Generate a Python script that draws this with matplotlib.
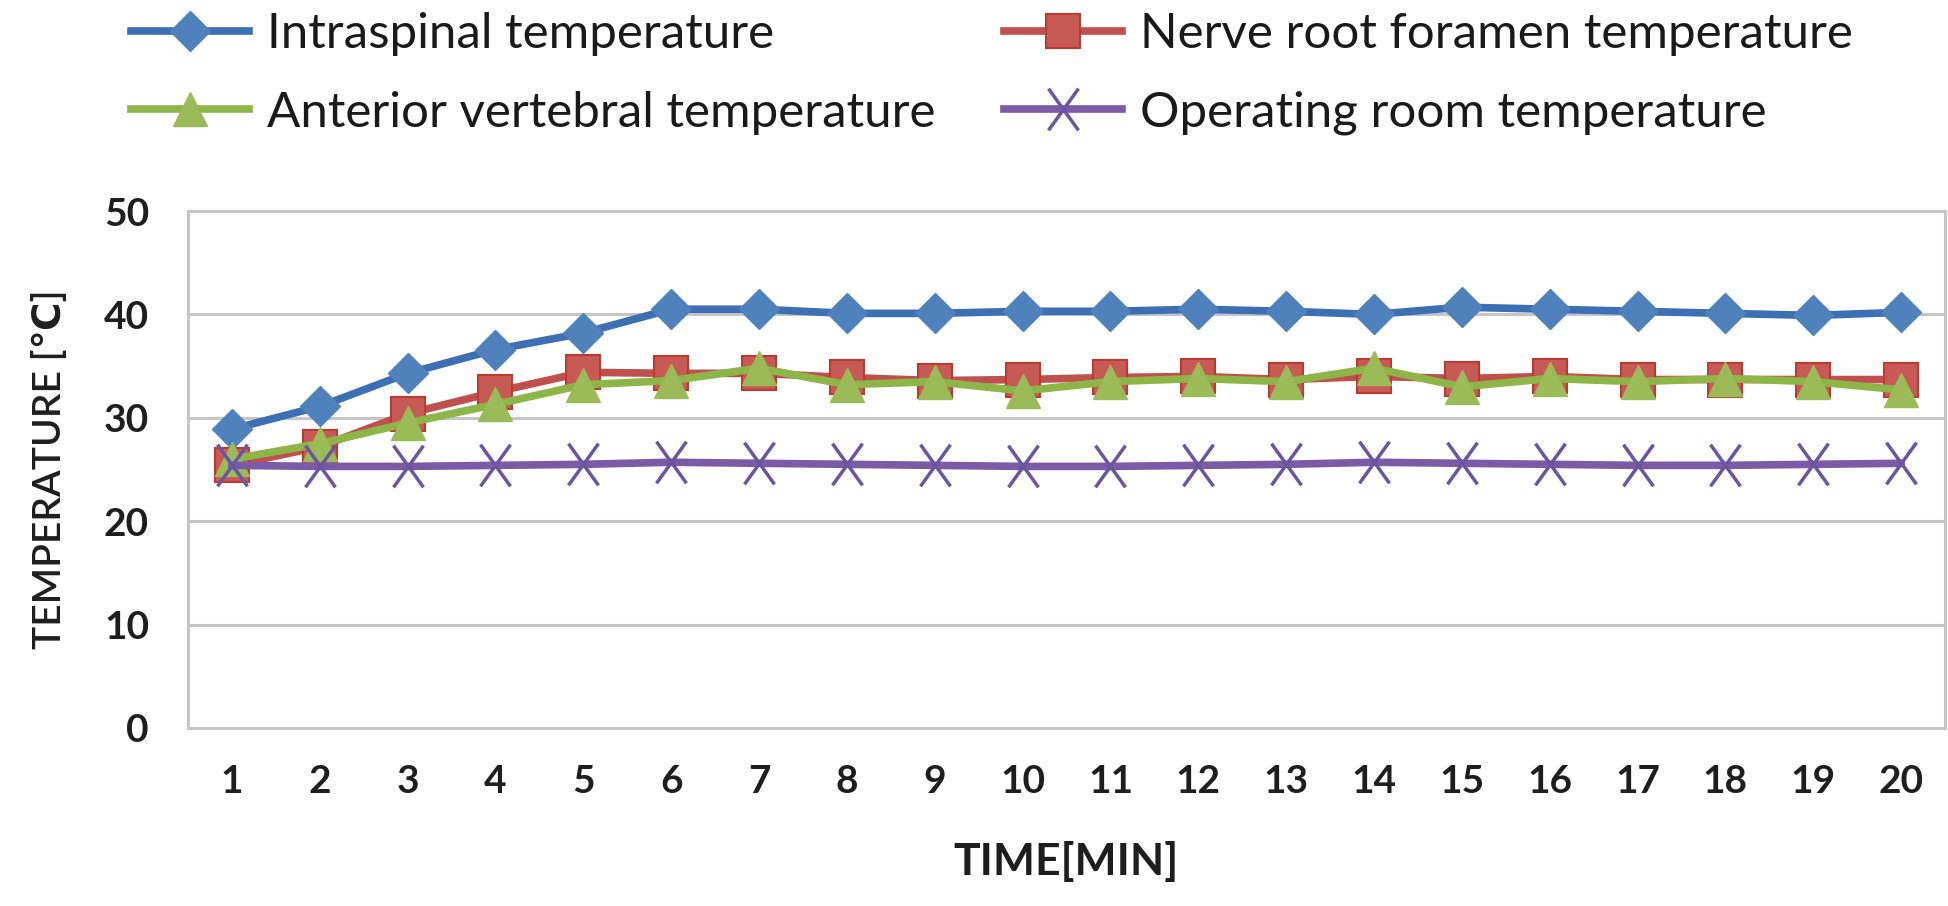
import numpy as np
import matplotlib
matplotlib.use("Agg")
import matplotlib.pyplot as plt
from matplotlib.path import Path

plt.rcParams['font.family'] = ['Lato', 'DejaVu Sans']

minutes = list(range(1, 21))
intraspinal = [28.9, 31.1, 34.3, 36.6, 38.2, 40.5, 40.5, 40.1, 40.1, 40.3,
               40.3, 40.5, 40.3, 40.0, 40.7, 40.5, 40.3, 40.1, 39.9, 40.2]
foramen = [25.4, 27.2, 30.4, 32.5, 34.4, 34.3, 34.3, 33.9, 33.6, 33.7,
           33.9, 34.0, 33.7, 34.0, 33.8, 34.0, 33.7, 33.7, 33.7, 33.7]
anterior = [26.0, 27.5, 29.5, 31.3, 33.2, 33.6, 34.8, 33.2, 33.5, 32.6,
            33.5, 33.8, 33.5, 34.8, 33.0, 33.8, 33.5, 33.8, 33.5, 32.7]
room = [25.4, 25.3, 25.3, 25.4, 25.5, 25.7, 25.6, 25.5, 25.4, 25.3,
        25.3, 25.4, 25.5, 25.7, 25.6, 25.5, 25.4, 25.4, 25.5, 25.6]

labels = ['Intraspinal temperature', 'Nerve root foramen temperature',
          'Anterior vertebral temperature', 'Operating room temperature']
yticks = [0, 10, 20, 30, 40, 50]

W, H = 1949, 906
fig = plt.figure(figsize=(W / 100, H / 100), dpi=100)
ax = fig.add_axes([188 / W, 1 - 728 / H, (1945 - 188) / W, (728 - 211) / H])

# tall narrow cross like the excel marker
xmark = Path([(-0.72, -1), (0.72, 1), (-0.72, 1), (0.72, -1)],
             [Path.MOVETO, Path.LINETO, Path.MOVETO, Path.LINETO])

lw = 5.5
l1, = ax.plot(minutes, intraspinal, color='#3c6fb4', lw=lw, marker='D', ms=20,
              mfc='#4f81bd', mec='#4f81bd', label=labels[0], zorder=3)
l2, = ax.plot(minutes, foramen, color='#c0504d', lw=lw, marker='s', ms=24,
              mfc='#c85a56', mec='#c0392f', mew=1.5, label=labels[1], zorder=4)
l3, = ax.plot(minutes, anterior, color='#8db548', lw=lw, marker='^', ms=24,
              mfc='#9bbb59', mec='#9bbb59', label=labels[2], zorder=5)
l4, = ax.plot(minutes, room, color='#7b5aa6', lw=lw, marker=xmark, ms=30, mew=2.5,
              mec='#6a55a0', label=labels[3], zorder=6)

ax.set_xlim(0.5, 20.5)
ax.set_ylim(0, 50)
ax.set_xticks(minutes)
ax.set_yticks(yticks)
ax.grid(axis='y', color='#c6c6c6', lw=2.2)
ax.set_axisbelow(True)
for s in ax.spines.values():
    s.set_color('#c6c6c6')
    s.set_linewidth(2.2)
ax.tick_params(length=0, labelsize=28, colors='#1e1e1e')
ax.tick_params(axis='x', pad=26)
ax.tick_params(axis='y', pad=28)
for t in ax.get_xticklabels() + ax.get_yticklabels():
    t.set_fontweight('bold')

ax.set_xlabel('TIME[MIN]', fontsize=32, fontweight='bold', color='#1e1e1e', labelpad=30)
ax.set_ylabel('TEMPERATURE [℃]', fontsize=28, fontweight='semibold', color='#1e1e1e', labelpad=26)

# row-wise order: matplotlib fills legend columns first
fig.legend([l1, l3, l2, l4], [labels[0], labels[2], labels[1], labels[3]],
           loc='upper left', bbox_to_anchor=(131 / W, 1 - 12 / H), ncol=2,
           frameon=False, fontsize=35.5, handlelength=2.4, handletextpad=0.35,
           columnspacing=1.4, labelspacing=0.7, borderpad=0, borderaxespad=0,
           labelcolor='#1a1a1a')

fig.savefig('out.png', dpi=100, facecolor='white')
